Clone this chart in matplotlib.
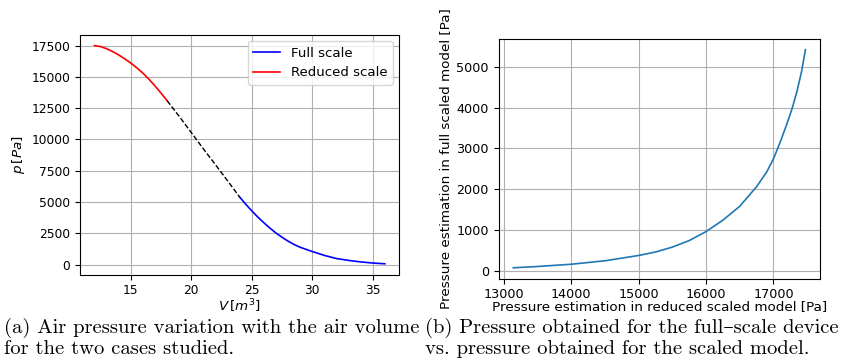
import numpy as np
import matplotlib.pyplot as plt

# volume [m^3] and pressure [Pa] for the left plot
v_red = [12, 12.5, 13, 13.5, 14, 14.5, 15, 15.5, 16, 16.5, 17, 17.5, 18]
p_red = [17500, 17420, 17250, 17020, 16750, 16440, 16100, 15720, 15300,
         14810, 14270, 13700, 13100]
v_gap = [18, 19, 20, 21, 22, 23, 24]
p_gap = [13100, 11850, 10550, 9250, 7980, 6700, 5400]
v_full = [24, 24.5, 25, 25.5, 26, 26.5, 27, 27.5, 28, 28.5, 29, 30, 31, 32,
          33, 34, 35, 36]
p_full = [5400, 4830, 4300, 3800, 3350, 2920, 2530, 2190, 1880, 1610, 1390,
          1050, 740, 490, 340, 220, 130, 70]

# right plot: reduced model pressure vs full scale pressure
p_reduced = [13140, 13500, 14000, 14500, 15000, 15250, 15500, 15750, 16000,
             16250, 16500, 16750, 16900, 17000, 17100, 17200, 17282, 17350,
             17420, 17475]
p_fullscale = [73, 105, 160, 245, 375, 460, 580, 740, 960,
               1240, 1580, 2060, 2420, 2740, 3150, 3600, 4000, 4400,
               4900, 5420]

fig = plt.figure(figsize=(8.46, 3.58), dpi=100)

ax1 = fig.add_axes([0.0946, 0.2327, 0.3774, 0.6704])
ax1.plot(v_full, p_full, color='blue', lw=1.2, label='Full scale')
ax1.plot(v_red, p_red, color='red', lw=1.2, label='Reduced scale')
ax1.plot(v_gap, p_gap, 'k--', lw=1.0)
ax1.set_xlabel(r'$V\,[m^3]$', fontsize=9.7)
ax1.set_ylabel(r'$p\,[Pa]$', fontsize=9.7)
ax1.xaxis.set_label_coords(0.5, -0.095)
ax1.yaxis.set_label_coords(-0.166, 0.5)
ax1.tick_params(labelsize=8.8)
ax1.grid(True)
ax1.legend(loc='upper right', fontsize=9.6)

ax2 = fig.add_axes([0.5895, 0.2215, 0.3798, 0.6704])
ax2.plot(p_reduced, p_fullscale, lw=1.2)
ax2.set_xlabel('Pressure estimation in reduced scaled model [Pa]', fontsize=9.7)
ax2.set_ylabel('Pressure estimation in full scaled model [Pa]', fontsize=9.7)
ax2.xaxis.set_label_coords(0.5, -0.09)
ax2.yaxis.set_label_coords(-0.145, 0.5)
ax2.tick_params(labelsize=9.2)
ax2.grid(True)

# subfigure captions
cap = dict(family=['cmr10', 'DejaVu Serif'], fontsize=14.8, va='center', ha='left')
fig.text(0.005, 1 - 328 / 358, '(a) Air pressure variation with the air volume', **cap)
fig.text(0.005, 1 - 349 / 358, 'for the two cases studied.', **cap)
fig.text(0.502, 1 - 328 / 358, '(b) Pressure obtained for the full–scale device', **cap)
fig.text(0.502, 1 - 349 / 358, 'vs. pressure obtained for the scaled model.', **cap)

fig.savefig('out.png', dpi=100)
